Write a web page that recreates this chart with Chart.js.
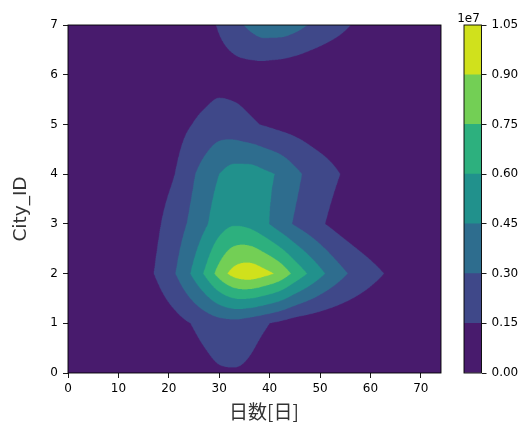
<!DOCTYPE html>
<html><head><meta charset="utf-8">
<script src="https://cdn.jsdelivr.net/npm/chart.js@4.4.1/dist/chart.umd.min.js"></script>
<style>
html,body{margin:0;padding:0;background:#fff;width:521px;height:423px;overflow:hidden}
#wm{position:absolute;left:0;top:0;width:455px;height:423px}
#wc{position:absolute;left:455px;top:0;width:66px;height:423px}
</style></head><body>
<div id="wm"><canvas id="main"></canvas></div>
<div id="wc"><canvas id="cbar"></canvas></div>
<script>
// ---- data (values in units of 1e6) ----
const UNIT = 1e6;
const CB_UNIT = 1e7;
const days = [0,3,6,9,12,15,18,21,24,27,30,33,36,39,42,45,48,51,54,57,60,63,66,69,72,74];
const cityIds = [0,1,2,3,4,5,6,7];
const city0 = [0.05,0.05,0.08,0.10,0.15,0.20,0.30,0.45,0.60,1.00,1.33,1.38,1.20,0.70,0.40,0.28,0.20,0.15,0.12,0.10,0.08,0.06,0.05,0.05,0.04,0.04];
const city1 = [0.05,0.08,0.12,0.20,0.30,0.45,0.65,0.95,1.45,1.95,2.35,2.45,2.10,1.65,1.20,0.75,0.55,0.40,0.30,0.25,0.22,0.20,0.18,0.15,0.12,0.10];
const city2 = [0.08,0.12,0.20,0.35,0.65,1.10,1.75,2.85,4.35,6.10,8.10,9.55,9.95,9.45,8.60,7.10,5.75,4.50,3.45,2.60,1.95,1.45,1.05,0.75,0.50,0.40];
const city3 = [0.08,0.12,0.20,0.35,0.60,0.95,1.40,2.20,3.15,4.20,5.30,5.85,5.60,4.80,3.75,2.85,2.15,1.50,0.90,0.50,0.30,0.20,0.15,0.10,0.08,0.06];
const city4 = [0.06,0.10,0.15,0.25,0.40,0.65,1.00,1.45,2.55,3.60,4.50,5.15,5.20,4.80,4.30,3.40,2.60,2.05,1.50,1.00,0.65,0.45,0.30,0.20,0.15,0.10];
const city5 = [0.05,0.06,0.10,0.15,0.25,0.40,0.60,0.90,1.40,1.90,2.25,2.05,1.70,1.40,1.10,0.90,0.70,0.50,0.40,0.30,0.20,0.15,0.10,0.08,0.06,0.05];
const city6 = [0.03,0.03,0.05,0.06,0.08,0.12,0.18,0.28,0.42,0.60,0.85,0.85,0.72,0.60,0.45,0.30,0.18,0.10,0.07,0.05,0.04,0.03,0.03,0.02,0.02,0.02];
const city7 = [0.02,0.02,0.03,0.04,0.06,0.10,0.18,0.30,0.50,1.00,1.65,2.45,3.30,3.85,3.85,3.50,2.90,2.35,1.85,1.35,0.95,0.70,0.50,0.35,0.25,0.20];
const levels = [0, 1.5, 3.0, 4.5, 6.0, 7.5, 9.0, 10.5];
const bandColors = ['#481b6d','#3f4889','#2e6d8e','#21918c','#2db07e','#73cf55','#d0e11c'];
const xTickValues = [0,10,20,30,40,50,60,70];
const yTickValues = [0,1,2,3,4,5,6,7];
const cbTickValues = [0,0.15,0.30,0.45,0.60,0.75,0.90,1.05];
const xLabel = '日数[日]';
const yLabel = 'City_ID';
const cbOffsetLabel = '1e7';

const rows = [city0,city1,city2,city3,city4,city5,city6,city7];

function makeMonotone(xs, ys){
  const n=xs.length, d=[], m=new Array(n);
  for(let i=0;i<n-1;i++) d[i]=(ys[i+1]-ys[i])/(xs[i+1]-xs[i]);
  m[0]=d[0]; m[n-1]=d[n-2];
  for(let i=1;i<n-1;i++) m[i]=(d[i-1]*d[i]<=0)?0:(d[i-1]+d[i])/2;
  for(let i=0;i<n-1;i++){
    if(d[i]===0){m[i]=0;m[i+1]=0;continue;}
    const a=m[i]/d[i], b=m[i+1]/d[i], s=a*a+b*b;
    if(s>9){const t=3/Math.sqrt(s); m[i]=t*a*d[i]; m[i+1]=t*b*d[i];}
  }
  return x=>{
    let i=0; while(i<n-2 && x>xs[i+1]) i++;
    const h=xs[i+1]-xs[i], t=Math.min(1,Math.max(0,(x-xs[i])/h)), t2=t*t, t3=t2*t;
    return (2*t3-3*t2+1)*ys[i]+(t3-2*t2+t)*h*m[i]+(-2*t3+3*t2)*ys[i+1]+(t3-t2)*h*m[i+1];
  };
}
const rowFns = rows.map(r=>makeMonotone(days,r));
function hexRgb(h){return [parseInt(h.slice(1,3),16),parseInt(h.slice(3,5),16),parseInt(h.slice(5,7),16)];}
const bandRgb = bandColors.map(hexRgb);

const contourPlugin = {
  id:'contourFill',
  beforeDatasetsDraw(chart){
    const {ctx, chartArea:a, scales:{x,y}} = chart;
    const S=3;
    const W=a.right-a.left, H=a.bottom-a.top;
    const w=Math.round(W*S), h=Math.round(H*S);
    const off=document.createElement('canvas'); off.width=w; off.height=h;
    const octx=off.getContext('2d'); const img=octx.createImageData(w,h); const px=img.data;
    const nr=rows.length;
    for(let i=0;i<w;i++){
      const dx=x.getValueForPixel(a.left+(i+0.5)/S);
      const col=rowFns.map(f=>f(dx));
      for(let j=0;j<h;j++){
        const dy=y.getValueForPixel(a.top+(j+0.5)/S);
        let k=Math.floor(dy); if(k<0)k=0; if(k>nr-2)k=nr-2;
        const t=dy-cityIds[k];
        const z=col[k]*(1-t)+col[k+1]*t;
        let b=0; while(b<levels.length-2 && z>=levels[b+1]) b++;
        const c=bandRgb[b], o=(j*w+i)*4;
        px[o]=c[0];px[o+1]=c[1];px[o+2]=c[2];px[o+3]=255;
      }
    }
    octx.putImageData(img,0,0);
    ctx.save(); ctx.imageSmoothingEnabled=true; ctx.imageSmoothingQuality='high';
    ctx.drawImage(off,a.left,a.top,W,H); ctx.restore();
  },
  afterDraw(chart){
    const {ctx, chartArea:a} = chart;
    ctx.save();
    ctx.strokeStyle='#000'; ctx.lineWidth=0.9;
    ctx.strokeRect(a.left,a.top,a.right-a.left,a.bottom-a.top);
    ctx.fillStyle='#333';
    ctx.font='19px "Noto Sans CJK JP"';
    ctx.textAlign='center'; ctx.textBaseline='middle';
    ctx.fillText(xLabel, 264, 412);
    ctx.translate(21, 209); ctx.rotate(-Math.PI/2);
    ctx.font='18.5px "DejaVu Sans"';
    ctx.fillText(yLabel, 0, 0);
    ctx.restore();
  }
};

const tickFont = {family:'DejaVu Sans', size:12};
new Chart(document.getElementById('main'), {
  type:'scatter',
  data:{datasets:[{label:'grid', data: rows.flatMap((r,ci)=>days.map((d,i)=>({x:d,y:cityIds[ci],v:r[i]*UNIT}))), pointRadius:0, pointHoverRadius:0}]},
  options:{
    responsive:true, maintainAspectRatio:false, animation:false, events:[],
    layout:{padding:{top:25,right:14,left:0,bottom:0}},
    plugins:{legend:{display:false}, tooltip:{enabled:false}},
    scales:{
      x:{type:'linear',min:0,max:74,
        afterBuildTicks:s=>{s.ticks=xTickValues.map(v=>({value:v}));},
        afterFit:s=>{s.height=50;},
        ticks:{font:tickFont,color:'#000',padding:4,maxRotation:0,autoSkip:false},
        grid:{display:true,drawOnChartArea:false,drawTicks:true,tickLength:5,tickColor:'#000',tickWidth:0.9},
        border:{display:false}},
      y:{type:'linear',min:0,max:7,
        afterBuildTicks:s=>{s.ticks=yTickValues.map(v=>({value:v}));},
        afterFit:s=>{s.width=68;},
        ticks:{font:tickFont,color:'#000',padding:5,autoSkip:false},
        grid:{display:true,drawOnChartArea:false,drawTicks:true,tickLength:5,tickColor:'#000',tickWidth:0.9},
        border:{display:false}}
    }
  },
  plugins:[contourPlugin]
});

const cbPlugin = {
  id:'cbFrame',
  afterDraw(chart){
    const {ctx, chartArea:a} = chart;
    ctx.save();
    ctx.strokeStyle='#000'; ctx.lineWidth=0.9;
    ctx.strokeRect(a.left,a.top,a.right-a.left,a.bottom-a.top);
    ctx.fillStyle='#000'; ctx.font='12px "DejaVu Sans"';
    ctx.textAlign='center'; ctx.textBaseline='alphabetic';
    ctx.fillText(cbOffsetLabel, 13.5, 21.5);
    ctx.restore();
  }
};
new Chart(document.getElementById('cbar'), {
  type:'bar',
  data:{labels:[''], datasets: bandColors.map((c,i)=>({
    label:'band'+i,
    data:[[levels[i]*UNIT/CB_UNIT, levels[i+1]*UNIT/CB_UNIT]],
    backgroundColor:c, borderWidth:0, grouped:false, barPercentage:1, categoryPercentage:1}))},
  options:{
    responsive:true, maintainAspectRatio:false, animation:false, events:[],
    layout:{padding:{left:9, top:25, bottom:50, right:0}},
    plugins:{legend:{display:false}, tooltip:{enabled:false}},
    scales:{
      x:{display:false},
      y:{position:'right', min:0, max:1.05,
        afterBuildTicks:s=>{s.ticks=cbTickValues.map(v=>({value:v}));},
        afterFit:s=>{s.width=39.5;},
        ticks:{font:tickFont,color:'#000',padding:5,callback:v=>Number(v).toFixed(2)},
        grid:{display:true,drawOnChartArea:false,drawTicks:true,tickLength:5,tickColor:'#000',tickWidth:0.9},
        border:{display:false}}
    }
  },
  plugins:[cbPlugin]
});
</script>
</body></html>
